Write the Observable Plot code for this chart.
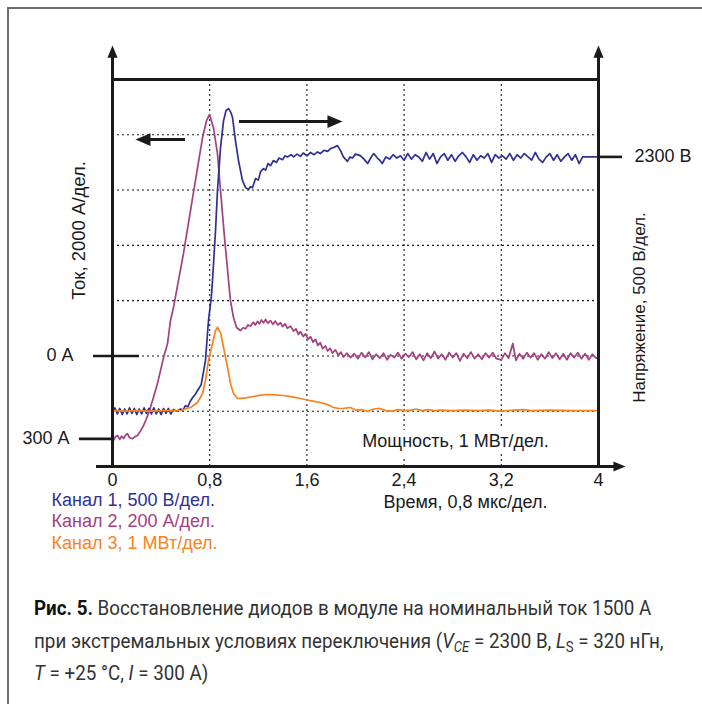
<!DOCTYPE html>
<html><head><meta charset="utf-8">
<script src="https://cdn.jsdelivr.net/npm/d3@7"></script>
<script src="https://cdn.jsdelivr.net/npm/@observablehq/plot@0.6"></script>
<style>
body{margin:0;background:#fff;}
#wrap{position:relative;width:702px;height:704px;overflow:hidden;background:#fff;}
#chart{position:absolute;left:0;top:0;}
#frame{position:absolute;left:7px;top:7px;width:900px;height:900px;border-left:2px solid #6d6d6d;border-top:2px solid #6d6d6d;pointer-events:none;}
#caption{position:absolute;left:34px;top:592px;font-family:Roboto,"Liberation Sans",sans-serif;font-size:21px;line-height:32.5px;color:#333;transform:scaleX(0.895);transform-origin:0 0;white-space:nowrap;}
#caption b{color:#111;}
#caption sub{font-size:0.7em;vertical-align:-0.3em;line-height:0;}
</style></head>
<body><div id="wrap"><div id="chart"></div><div id="frame"></div>
<div id="caption"><b>Рис. 5.</b> Восстановление диодов в модуле на номинальный ток 1500 А<br>при экстремальных условиях переключения (<i>V</i><sub><i>CE</i></sub> = 2300 В, <i>L</i><sub>S</sub> = 320 нГн,<br><i>T</i> = +25 °C, <i>I</i> = 300 А)</div>
</div>
<script>
// time axis (µs, 0.8 µs/div)
const xTicks = [0, 0.8, 1.6, 2.4, 3.2, 4];
const vGrid = [0.8, 1.6, 2.4, 3.2];
const hGrid = [1, 2, 3, 4, 5, 6];

// Channel 1: voltage, V  [t, V]
const ch1 = [[0.00,-10],[0.02,30],[0.04,-25],[0.06,25],[0.08,-30],[0.10,20],[0.12,-25],[0.14,30],[0.16,-20],[0.18,25],[0.20,-30],[0.22,20],[0.24,-25],[0.26,30],[0.28,-20],[0.30,25],[0.32,-25],[0.34,30],[0.36,-25],[0.38,20],[0.40,-30],[0.42,25],[0.44,-20],[0.46,25],[0.48,-25],[0.50,15],[0.53,0],[0.56,20],[0.58,10],[0.60,50],[0.62,40],[0.64,90],[0.66,124],[0.68,150],[0.70,187],[0.73,240],[0.765,458],[0.79,820],[0.815,1050],[0.823,1182],[0.848,1634],[0.864,1995],[0.889,2384],[0.914,2628],[0.935,2720],[0.955,2737],[0.975,2700],[0.988,2656],[1.012,2448],[1.037,2267],[1.07,2086],[1.095,2022],[1.12,2005],[1.135,2030],[1.152,2020],[1.177,2104],[1.20,2090],[1.22,2170],[1.243,2194],[1.26,2180],[1.28,2240],[1.30,2220],[1.325,2267],[1.35,2250],[1.37,2290],[1.40,2275],[1.42,2310],[1.44,2300],[1.47,2320],[1.49,2300],[1.52,2325],[1.547,2305],[1.57,2335],[1.60,2310],[1.63,2340],[1.66,2320],[1.687,2345],[1.71,2330],[1.74,2360],[1.77,2350],[1.794,2375],[1.82,2385],[1.852,2402],[1.877,2357],[1.90,2300],[1.934,2260],[1.955,2300],[1.975,2290],[2.00,2325],[2.04,2312],[2.07,2280],[2.10,2240],[2.13,2300],[2.15,2330],[2.18,2290],[2.20,2270],[2.22,2240],[2.25,2300],[2.28,2280],[2.31,2320],[2.34,2290],[2.37,2310],[2.40,2270],[2.43,2330],[2.46,2280],[2.49,2320],[2.52,2300],[2.55,2260],[2.58,2340],[2.61,2280],[2.64,2330],[2.67,2240],[2.70,2300],[2.73,2330],[2.76,2270],[2.79,2320],[2.82,2260],[2.85,2310],[2.88,2340],[2.91,2300],[2.94,2250],[2.97,2320],[3.00,2270],[3.03,2310],[3.06,2290],[3.09,2330],[3.12,2250],[3.15,2320],[3.18,2290],[3.21,2310],[3.24,2280],[3.27,2330],[3.30,2270],[3.33,2320],[3.36,2290],[3.39,2330],[3.42,2300],[3.45,2270],[3.48,2340],[3.51,2280],[3.54,2250],[3.57,2300],[3.60,2330],[3.63,2270],[3.66,2320],[3.69,2260],[3.72,2300],[3.75,2330],[3.78,2270],[3.81,2320],[3.84,2240],[3.87,2300],[4.00,2300]];

// Channel 2: current, A  [t, A]
const ch2 = [[0.0,-300],[0.008,-306],[0.025,-292],[0.041,-288],[0.06,-302],[0.075,-290],[0.091,-299],[0.108,-286],[0.123,-281],[0.14,-296],[0.165,-299],[0.185,-292],[0.206,-288],[0.23,-272],[0.255,-252],[0.275,-232],[0.296,-208],[0.315,-182],[0.337,-150],[0.355,-122],[0.370,-100],[0.395,-53],[0.420,-6],[0.453,45],[0.477,128],[0.502,175],[0.543,273],[0.584,370],[0.642,526],[0.700,681],[0.741,790],[0.774,851],[0.798,873],[0.831,826],[0.864,732],[0.889,598],[0.922,428],[0.955,273],[0.971,200],[0.996,139],[1.021,103],[1.053,92],[1.075,102],[1.095,98],[1.115,112],[1.136,108],[1.16,122],[1.175,112],[1.193,125],[1.21,116],[1.225,130],[1.243,120],[1.26,132],[1.28,118],[1.30,128],[1.32,114],[1.34,126],[1.36,112],[1.383,120],[1.40,106],[1.42,116],[1.44,100],[1.465,108],[1.49,90],[1.51,98],[1.53,78],[1.547,88],[1.57,70],[1.588,80],[1.61,60],[1.63,70],[1.65,50],[1.671,60],[1.69,38],[1.71,48],[1.73,26],[1.753,36],[1.77,18],[1.79,28],[1.81,10],[1.835,22],[1.86,2],[1.88,14],[1.901,-4],[1.93,10],[1.959,-6],[1.99,8],[2.02,-10],[2.05,12],[2.08,-6],[2.11,14],[2.14,-12],[2.17,6],[2.20,-8],[2.23,10],[2.26,-14],[2.29,4],[2.32,-6],[2.35,12],[2.38,-10],[2.41,8],[2.44,-4],[2.47,14],[2.50,-12],[2.53,6],[2.56,-16],[2.59,10],[2.62,-8],[2.65,16],[2.68,-10],[2.71,6],[2.74,-14],[2.77,12],[2.80,-6],[2.83,10],[2.86,-18],[2.89,8],[2.92,-8],[2.95,14],[2.98,-10],[3.01,6],[3.04,-12],[3.07,10],[3.10,-6],[3.13,12],[3.16,-10],[3.20,-14],[3.23,10],[3.26,-8],[3.295,45],[3.32,-16],[3.35,8],[3.38,-10],[3.41,12],[3.44,-6],[3.47,10],[3.50,-14],[3.53,6],[3.56,-10],[3.59,14],[3.62,-8],[3.65,10],[3.68,-12],[3.71,8],[3.74,-14],[3.77,10],[3.80,-6],[3.83,12],[3.86,-10],[3.89,8],[3.92,-14],[3.95,6],[3.98,-8],[4.0,-4]];

// Channel 3: power, MW  [t, MW]
const ch3 = [[0,0.01],[0.1,0.0],[0.2,0.01],[0.3,0.0],[0.4,0.01],[0.5,0.01],[0.56,0.013],[0.60,0.04],[0.642,0.067],[0.700,0.157],[0.741,0.320],[0.765,0.555],[0.790,0.917],[0.823,1.224],[0.848,1.459],[0.864,1.514],[0.889,1.423],[0.914,1.152],[0.947,0.790],[0.971,0.501],[0.996,0.320],[1.029,0.230],[1.078,0.235],[1.12,0.25],[1.160,0.266],[1.22,0.29],[1.276,0.302],[1.34,0.295],[1.407,0.284],[1.48,0.26],[1.547,0.230],[1.63,0.19],[1.712,0.157],[1.77,0.12],[1.819,0.067],[1.86,0.05],[1.901,0.049],[1.93,0.06],[1.959,0.067],[2.0,0.02],[2.05,0.03],[2.1,0.0],[2.15,0.04],[2.2,0.05],[2.25,0.01],[2.3,0.0],[2.35,0.03],[2.4,0.01],[2.45,0.02],[2.5,0.04],[2.55,0.01],[2.6,0.03],[2.65,0.01],[2.7,0.02],[2.8,0.01],[2.9,0.02],[3.0,0.01],[3.1,0.02],[3.2,0.0],[3.3,0.02],[3.38,0.03],[3.45,0.01],[3.6,0.02],[3.8,0.01],[4.0,0.01]];

// reference levels
const refCurrent = [0, -300];   // A
const refVoltage = [2300];      // V

const channels = ["Канал 1, 500 В/дел.", "Канал 2, 200 А/дел.", "Канал 3, 1 МВт/дел."];
const colors = ["#2e3192", "#a3417f", "#f7841f"];

// screen divisions (0..7) of each channel
const divV = v => 1 + v / 500;
const divA = a => 2 + a / 200;
const divP = p => 1 + p;

const head = {draw(ctx, size) { const h = Math.sqrt(size); ctx.moveTo(0, 0); ctx.lineTo(-0.42 * h, h); ctx.lineTo(0.42 * h, h); ctx.closePath(); }};
const ink = "#1a1a1a";

const plot = Plot.plot({
  width: 702, height: 560,
  marginTop: 79, marginBottom: 94, marginLeft: 112, marginRight: 104,
  x: {domain: [0, 4], axis: null},
  y: {domain: [0, 7], axis: null},
  style: {fontFamily: '"Liberation Sans", Arial, sans-serif', fontSize: "18px", background: "transparent", overflow: "visible", color: ink},
  marks: [
    Plot.ruleX(vGrid, {y1: 0, y2: 7, stroke: ink, strokeWidth: 1.1, strokeDasharray: "2,3"}),
    Plot.ruleY(hGrid, {x1: 0, x2: 4, stroke: ink, strokeWidth: 1.1, strokeDasharray: "2,3"}),
    Plot.text(["Мощность, 1 МВт/дел."], {x: () => 2.823, y: () => 0.45, text: d => d, fill: ink, stroke: "white", strokeWidth: 14}),
    Plot.line(ch2, {x: d => d[0], y: d => divA(d[1]), stroke: colors[1], strokeWidth: 1.7}),
    Plot.line(ch1, {x: d => d[0], y: d => divV(d[1]), stroke: colors[0], strokeWidth: 1.7}),
    Plot.line(ch3, {x: d => d[0], y: d => divP(d[1]), stroke: colors[2], strokeWidth: 1.7}),
    // frame axes
    Plot.ruleY([7], {x1: 0, x2: 4, stroke: ink, strokeWidth: 3}),
    Plot.ruleX([0, 4], {y1: 0, y2: 7.45, stroke: ink, strokeWidth: 3}),
    Plot.ruleY([0], {x1: -0.132, x2: 4.15, stroke: ink, strokeWidth: 3}),
    Plot.dot([0, 4], {x: d => d, y: () => 7.613, symbol: head, r: 6.8, fill: ink}),
    Plot.dot([0], {x: () => 4.222, y: () => 0, symbol: head, r: 6.8, fill: ink, rotate: 90}),
    // direction arrows
    Plot.ruleY([5.913], {x1: 0.601, x2: 0.27, stroke: ink, strokeWidth: 3}),
    Plot.dot([0], {x: () => 0.189, y: () => 5.913, symbol: head, r: 8.5, fill: ink, rotate: -90}),
    Plot.ruleY([6.239], {x1: 1.045, x2: 1.82, stroke: ink, strokeWidth: 3}),
    Plot.dot([0], {x: () => 1.893, y: () => 6.239, symbol: head, r: 8.5, fill: ink, rotate: 90}),
    // reference markers
    Plot.ruleY([refCurrent[0]], {y: divA, x1: -0.156, x2: 0.222, stroke: ink, strokeWidth: 2.6}),
    Plot.ruleY([refCurrent[1]], {y: divA, x1: -0.272, x2: 0, stroke: ink, strokeWidth: 2.6}),
    Plot.ruleY(refVoltage, {y: divV, x1: 4, x2: 4.198, stroke: ink, strokeWidth: 2.6}),
    Plot.text(refCurrent, {x: (d, i) => i ? -0.354 : -0.321, y: divA, dy: -1, text: d => `${Math.abs(d)} А`, textAnchor: "end", fill: ink}),
    Plot.text(refVoltage, {x: () => 4.296, y: divV, dy: -1, text: d => `${d} В`, textAnchor: "start", fill: ink}),
    // axis labels
    Plot.text(["Ток, 2000 А/дел."], {x: () => -0.276, y: () => 4.27, text: d => d, rotate: -90, fill: ink, fontSize: 18.5}),
    Plot.text(["Напряжение, 500 В/дел."], {x: () => 4.339, y: () => 2.875, text: d => d, rotate: -90, fill: ink, fontSize: 17}),
    Plot.axisX(xTicks, {tickSize: 0, tickPadding: 7, tickFormat: d => String(d).replace(".", ","), label: null, fontSize: 18, fill: ink}),
    Plot.text(["Время, 0,8 мкс/дел."], {x: () => 2.905, y: () => -0.651, text: d => d, fill: ink}),
    Plot.text(channels, {x: () => -0.502, y: (d, i) => [-0.615, -0.995, -1.392][i], text: d => d, fill: (d, i) => colors[i], textAnchor: "start"})
  ]
});
document.getElementById("chart").appendChild(plot);
</script>
</body></html>
